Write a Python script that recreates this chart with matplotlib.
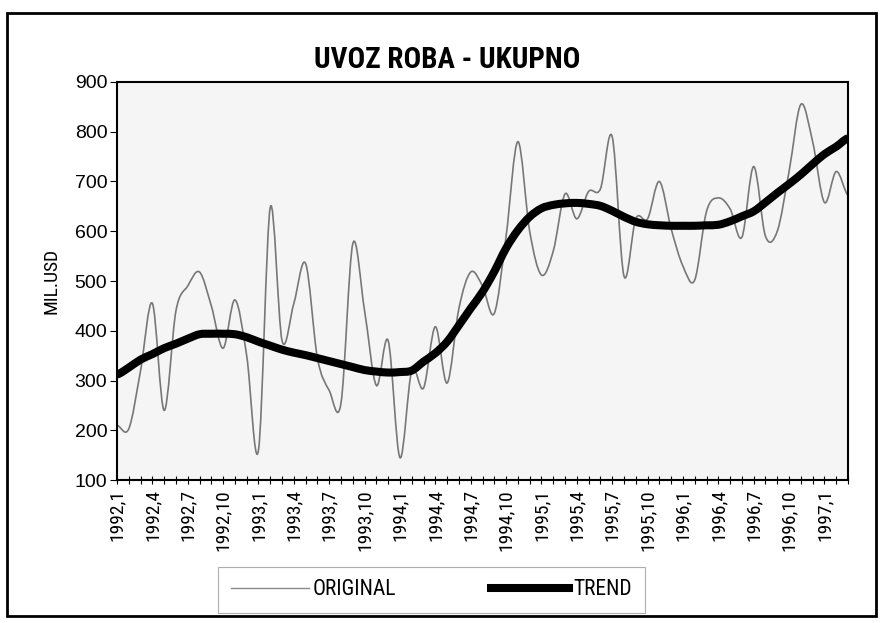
import matplotlib
matplotlib.use("Agg")
import matplotlib.pyplot as plt
from matplotlib import font_manager
from matplotlib.path import Path
from matplotlib.patches import PathPatch, Rectangle
from matplotlib.lines import Line2D
import numpy as np

# monthly import of goods, mil. USD, 1992,1 .. 1997,3
original = [210, 203, 320, 455, 240, 440, 490, 518, 450, 365,
            462, 350, 160, 648, 380, 455, 535, 345, 280, 255,
            575, 440, 290, 380, 145, 320, 285, 408, 295, 445,
            518, 490, 435, 590, 780, 600, 512, 560, 675, 625,
            680, 685, 790, 510, 625, 625, 700, 605, 530, 502,
            640, 667, 645, 588, 730, 590, 600, 720, 855, 780,
            658, 720, 672]

trend = [312, 326, 342, 353, 365, 374, 384, 393, 394, 394,
         393, 387, 378, 370, 362, 356, 351, 345, 339, 333,
         327, 321, 318, 316, 317, 320, 338, 355, 378, 411,
         445, 478, 519, 566, 602, 629, 646, 653, 656, 657,
         655, 651, 641, 629, 619, 614, 612, 611, 611, 611,
         612, 613, 620, 630, 640, 658, 677, 695, 714, 735,
         755, 770, 787]

months = [f"{1992 + i // 12},{i % 12 + 1}" for i in range(len(original))]
y_ticks = [100, 200, 300, 400, 500, 600, 700, 800, 900]


def pick_font(names):
    for name in names:
        try:
            font_manager.findfont(name, fallback_to_default=False)
            return name
        except Exception:
            continue
    return "DejaVu Sans"


NARROW = pick_font(["Liberation Sans Narrow", "Roboto Condensed", "DejaVu Sans"])
plt.rcParams["font.family"] = [NARROW, "DejaVu Sans"]


def smooth_path(x, y):
    # bezier segments like a spreadsheet "smoothed line"
    n = len(x)
    verts = [(x[0], y[0])]
    codes = [Path.MOVETO]
    for i in range(n - 1):
        y_prev = y[i - 1] if i > 0 else y[i]
        y_next = y[i + 2] if i + 2 < n else y[i + 1]
        dx = (x[i + 1] - x[i]) / 3.0
        verts.append((x[i] + dx, y[i] + (y[i + 1] - y_prev) / 6.0))
        verts.append((x[i + 1] - dx, y[i + 1] - (y_next - y[i]) / 6.0))
        verts.append((x[i + 1], y[i + 1]))
        codes += [Path.CURVE4] * 3
    return Path(verts, codes)


fig = plt.figure(figsize=(8.85, 6.23), dpi=100)
ax = fig.add_axes([0.1322, 0.2295, 0.8260, 0.6389])
ax.set_facecolor("#f5f5f5")

x = np.arange(len(original))
ax.add_patch(PathPatch(smooth_path(x, original), fill=False,
                       edgecolor="#777777", lw=1.2))
ax.add_patch(PathPatch(smooth_path(x, trend), fill=False,
                       edgecolor="black", lw=5.8, capstyle="butt"))

ax.set_xlim(0, len(original) - 1)
ax.set_ylim(100, 900)
ax.set_yticks(y_ticks)
ax.set_yticklabels([str(v) for v in y_ticks], fontsize=14,
                   family="Liberation Sans")
ax.set_xticks(x[::3])
ax.set_xticklabels(months[::3], rotation=90, fontsize=14)
ax.set_xticks(x, minor=True)
ax.tick_params(axis="x", which="both", direction="inout", length=6, width=0.8)
ax.tick_params(axis="y", direction="out", length=5, width=0.8, pad=2)
for s in ax.spines.values():
    s.set_linewidth(1.5)
    s.set_color("black")

ax.set_ylabel("MIL.USD", fontsize=14, labelpad=10)
fig.text(0.505, 0.903, "UVOZ ROBA - UKUPNO", ha="center", va="center",
         fontsize=21, fontweight="bold")

handles = [Line2D([], [], color="#8a8a8a", lw=1.0),
           Line2D([], [], color="black", lw=5.8)]
leg = fig.legend(handles, ["ORIGINAL", "TREND"], ncol=2, loc="center",
                 bbox_to_anchor=(0.4876, 0.053), fontsize=15.5,
                 frameon=True, fancybox=False, handlelength=3.6,
                 handletextpad=0.2, columnspacing=4.4, borderpad=0.6)
leg.get_frame().set_edgecolor("#9a9a9a")
leg.get_frame().set_linewidth(0.8)

fig.patches.append(Rectangle((0.0079, 0.0112), 0.9819, 0.9678,
                             transform=fig.transFigure, fill=False,
                             edgecolor="black", lw=2))

fig.savefig("out.png", dpi=100)
